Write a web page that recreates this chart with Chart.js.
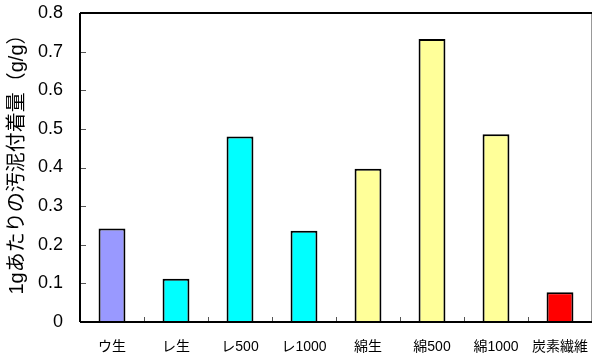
<!DOCTYPE html>
<html>
<head>
<meta charset="utf-8">
<script src="https://cdn.jsdelivr.net/npm/chart.js@4/dist/chart.umd.min.js"></script>
<style>
  html, body { margin: 0; padding: 0; background: #fff; }
  #wrap { width: 593px; height: 358px; }
</style>
</head>
<body>
<div id="wrap"><canvas id="c" width="593" height="358"></canvas></div>
<script>
// Sludge adhesion per gram of fibre material
const categories = ['ウ生', 'レ生', 'レ500', 'レ1000', '綿生', '綿500', '綿1000', '炭素繊維'];
const adhesion = [0.242, 0.112, 0.480, 0.236, 0.397, 0.733, 0.486, 0.077];
const barColors = ['#9999FF', '#00FFFF', '#00FFFF', '#00FFFF', '#FFFF99', '#FFFF99', '#FFFF99', '#FF0000'];
const yTicks = [0, 0.1, 0.2, 0.3, 0.4, 0.5, 0.6, 0.7, 0.8];
const yTitle = '1gあたりの汚泥付着量（g/g）';

const labelFont = '"Liberation Sans", "Noto Sans CJK JP", sans-serif';

// Vertical axis title, placed a little above the plot's middle
const yTitlePlugin = {
  id: 'yTitle',
  afterDraw(chart) {
    const { ctx, chartArea: a } = chart;
    ctx.save();
    ctx.translate(17, (a.top + a.bottom) / 2 - 8);
    ctx.rotate(-Math.PI / 2);
    ctx.font = '20px ' + labelFont;
    ctx.fillStyle = '#000';
    ctx.textAlign = 'center';
    ctx.textBaseline = 'middle';
    ctx.fillText(yTitle, 0, 0);
    ctx.restore();
  }
};

// Frame around the plot and short inward tick marks
const framePlugin = {
  id: 'frame',
  afterDraw(chart) {
    const { ctx, chartArea: a, scales } = chart;
    ctx.save();
    // inward ticks on the value axis
    ctx.strokeStyle = '#555';
    ctx.lineWidth = 1;
    yTicks.forEach(v => {
      const y = Math.round(scales.y.getPixelForValue(v)) + 0.5;
      ctx.beginPath();
      ctx.moveTo(a.left, y);
      ctx.lineTo(a.left + 6, y);
      ctx.stroke();
    });
    // inward ticks between categories
    for (let i = 1; i < categories.length; i++) {
      const x = Math.round((scales.x.getPixelForValue(i - 1) + scales.x.getPixelForValue(i)) / 2) + 0.5;
      ctx.beginPath();
      ctx.moveTo(x, a.bottom);
      ctx.lineTo(x, a.bottom - 5);
      ctx.stroke();
    }
    // right edge
    ctx.strokeStyle = '#999';
    ctx.beginPath();
    ctx.moveTo(a.right - 0.5, a.top);
    ctx.lineTo(a.right - 0.5, a.bottom);
    ctx.stroke();
    // top, left and bottom edges
    ctx.strokeStyle = '#000';
    ctx.lineWidth = 2;
    ctx.beginPath();
    ctx.moveTo(a.left, a.top);
    ctx.lineTo(a.right, a.top);
    ctx.moveTo(a.left, a.top);
    ctx.lineTo(a.left, a.bottom);
    ctx.moveTo(a.left, a.bottom);
    ctx.lineTo(a.right, a.bottom);
    ctx.stroke();
    ctx.restore();
  }
};

new Chart(document.getElementById('c'), {
  type: 'bar',
  data: {
    labels: categories,
    datasets: [{
      data: adhesion,
      backgroundColor: barColors,
      borderColor: '#000',
      borderWidth: 2,
      borderSkipped: 'bottom',
      barPercentage: 0.42,
      categoryPercentage: 1.0
    }]
  },
  options: {
    responsive: false,
    animation: false,
    events: [],
    layout: { padding: { top: 13, right: 1, bottom: 0, left: 0 } },
    plugins: { legend: { display: false }, tooltip: { enabled: false } },
    scales: {
      x: {
        grid: { display: false, drawTicks: false },
        border: { display: false },
        ticks: {
          color: '#000',
          padding: 17,
          maxRotation: 0,
          autoSkip: false,
          font: { family: labelFont, size: 14 }
        },
        afterFit(scale) {
          scale.height = 36;
          scale.paddingLeft = 0;
          scale.paddingRight = 0;
        }
      },
      y: {
        min: 0,
        max: 0.8,
        afterBuildTicks(scale) { scale.ticks = yTicks.map(v => ({ value: v })); },
        grid: { display: false, drawTicks: false },
        border: { display: false },
        ticks: {
          color: '#000',
          padding: 17,
          callback: v => (v === 0 ? '0' : v.toFixed(1)),
          font: { family: '"Liberation Sans", Arial, sans-serif', size: 18 }
        },
        afterFit(scale) {
          scale.width = 80;
          scale.paddingTop = 0;
          scale.paddingBottom = 0;
        }
      }
    }
  },
  plugins: [framePlugin, yTitlePlugin]
});
</script>
</body>
</html>
